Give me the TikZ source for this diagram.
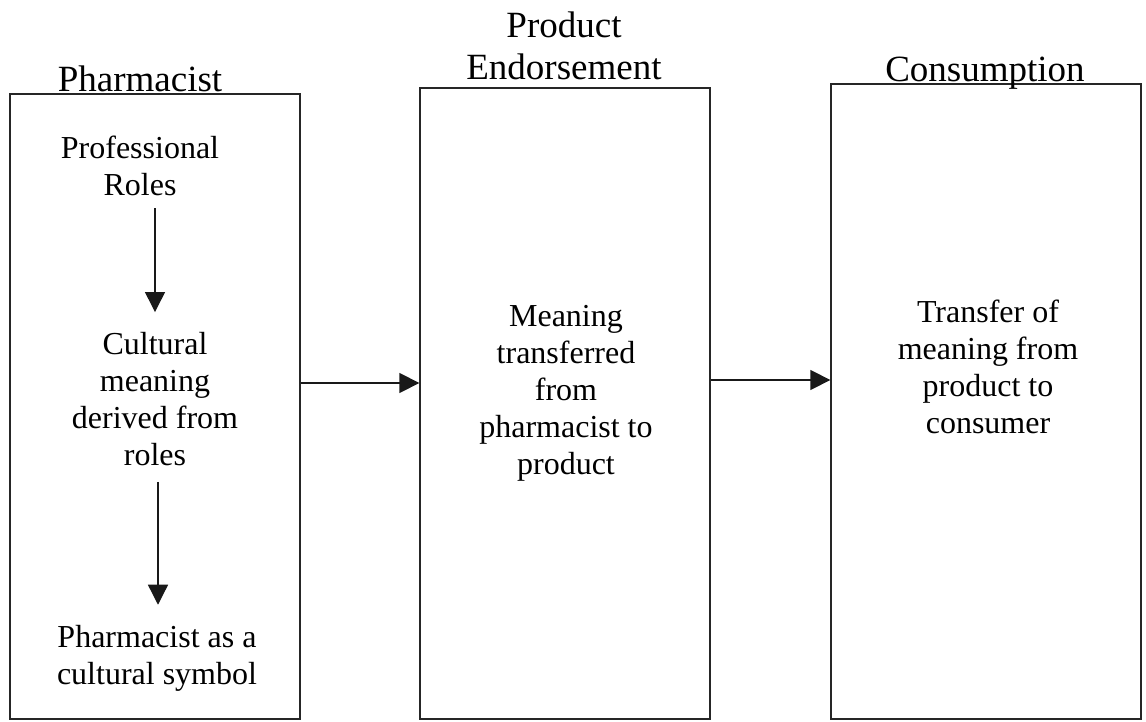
\documentclass[tikz,border=0pt]{standalone}
\usepackage{fontspec}
\setmainfont{Liberation Serif}
\usetikzlibrary{arrows.meta}
\begin{document}
\begin{tikzpicture}[x=1pt,y=-1pt,
  panel/.style={draw=black!85, line width=1.3pt, inner sep=0pt},
  body/.style={align=center, inner sep=0pt, font=\fontsize{32}{37}\selectfont},
  title/.style={align=center, inner sep=0pt, font=\fontsize{37}{42}\selectfont},
  arr/.style={draw=black!90, line width=1.3pt, -{Triangle[length=20pt,width=20pt]}}]
\useasboundingbox (0,0) rectangle (1146,722);
% panels
\node[panel, minimum width=290pt, minimum height=625pt] (b1) at (155,406.5) {};
\node[panel, minimum width=290pt, minimum height=631pt] (b2) at (565,403.5) {};
\node[panel, minimum width=310pt, minimum height=635pt] (b3) at (986,401.5) {};
% titles
\node[title, anchor=base] (h1) at (140,92) {Pharmacist};
\node[title, anchor=south] (h2) at (564,80) {Product\\Endorsement};
\node[title, anchor=base] (h3) at (985,82) {Consumption};
% texts in panel 1
\node[body] (t1) at (140,166) {Professional\\Roles};
\node[body] (t2) at (155,399) {Cultural\\meaning\\derived from\\roles};
\node[body] (t3) at (157,658) {Pharmacist as a\\cultural symbol};
% texts in panels 2 and 3
\node[body] (m) at (566,393) {Meaning\\transferred\\from\\pharmacist to\\product};
\node[body] (c) at (988,367) {Transfer of\\meaning from\\product to\\consumer};
% connectors
\draw[arr, shorten <=12pt, shorten >=20pt] ([xshift=15pt]t1.south) -- (t2.north);
\draw[arr, shorten <=16pt, shorten >=20pt] ([xshift=3pt]t2.south) -- ([xshift=1pt]t3.north);
\draw[arr] (b1.east |- 0,383) -- (b2.west |- 0,383);
\draw[arr] (b2.east |- 0,380) -- (b3.west |- 0,380);
\end{tikzpicture}
\end{document}
